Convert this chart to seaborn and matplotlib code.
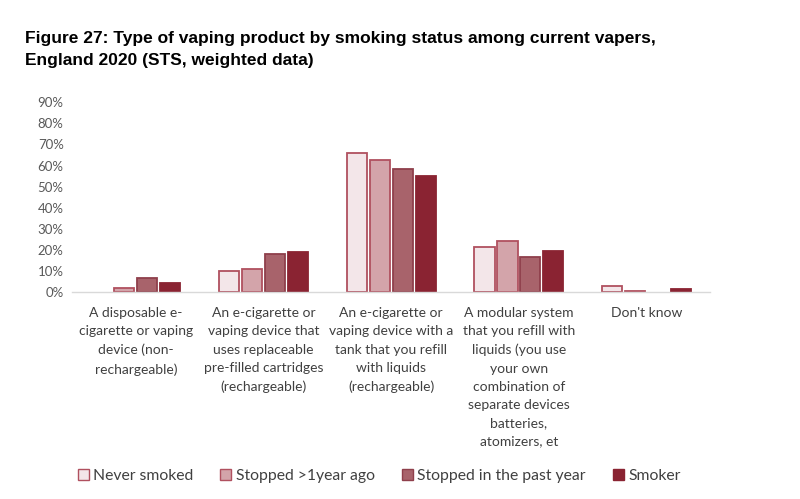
import matplotlib
matplotlib.use("Agg")
import matplotlib.pyplot as plt
import seaborn as sns
import pandas as pd
from matplotlib.patches import Patch
from matplotlib.ticker import FuncFormatter

categories = [
    "A disposable e-\ncigarette or vaping\ndevice (non-\nrechargeable)",
    "An e-cigarette or\nvaping device that\nuses replaceable\npre-filled cartridges\n(rechargeable)",
    "An e-cigarette or\nvaping device with a\ntank that you refill\nwith liquids\n(rechargeable)",
    "A modular system\nthat you refill with\nliquids (you use\nyour own\ncombination of\nseparate devices\nbatteries,\natomizers, et",
    "Don't know",
]
series = ["Never smoked", "Stopped >1year ago", "Stopped in the past year", "Smoker"]
never_smoked = [0.0, 10.0, 66.0, 21.3, 2.9]
stopped_over_1y = [1.9, 11.0, 62.7, 24.1, 0.3]
stopped_past_year = [6.8, 18.2, 58.2, 16.8, 0.0]
smoker = [4.3, 19.0, 54.8, 19.5, 1.6]
y_ticks = [0, 10, 20, 30, 40, 50, 60, 70, 80, 90]

fills = ["#F3E6E9", "#D3A4AA", "#A8636B", "#8A2332"]
edges = ["#B0505F", "#B0505F", "#8F3F4B", "#8A2332"]

rows = []
for s, vals in zip(series, [never_smoked, stopped_over_1y, stopped_past_year, smoker]):
    for c, v in zip(categories, vals):
        rows.append({"cat": c, "series": s, "value": v})
df = pd.DataFrame(rows)

sns.set_theme(style="white")
plt.rcParams["font.family"] = ["Lato", "DejaVu Sans"]

fig = plt.figure(figsize=(8.0, 4.99), dpi=100)
ax = fig.add_axes([0.09, 0.415, 0.798, 0.38])

sns.barplot(data=df, x="cat", y="value", hue="series", hue_order=series,
            palette=fills, width=0.72, gap=0.12, ax=ax, legend=False,
            edgecolor="none", linewidth=0, saturation=1)

for i, cont in enumerate(ax.containers):
    for p in cont.patches:
        p.set_edgecolor(edges[i])
        p.set_linewidth(1.3)
        if p.get_height() <= 0:
            p.set_visible(False)

ax.set_ylim(0, 90)
ax.set_yticks(y_ticks)
ax.yaxis.set_major_formatter(FuncFormatter(lambda v, _: f"{int(v)}%"))
ax.set_xlim(-0.5, 4.5)
ax.set_xlabel("")
ax.set_ylabel("")
for sp in ["top", "right", "left"]:
    ax.spines[sp].set_visible(False)
ax.spines["bottom"].set_color("#D9D9D9")
ax.spines["bottom"].set_linewidth(1.0)
ax.tick_params(axis="y", length=0, labelsize=9.5, labelcolor="#595959", pad=6)
ax.tick_params(axis="x", length=0, labelsize=10.0, labelcolor="#404040", pad=11)
for t in ax.get_xticklabels():
    t.set_linespacing(1.62)
    t.set_verticalalignment("top")

fig.text(0.031, 0.938, "Figure 27: Type of vaping product by smoking status among current vapers,\nEngland 2020 (STS, weighted data)",
         fontsize=12.5, fontweight="bold", color="#000000", ha="left", va="top",
         family=["Liberation Sans", "DejaVu Sans"], linespacing=1.55)

handles = [Patch(facecolor=f, edgecolor=e, linewidth=1.0) for f, e in zip(fills, edges)]
fig.legend(handles, series, loc="center", bbox_to_anchor=(0.474, 0.046), ncol=4,
           frameon=False, fontsize=11.3, labelcolor="#404040", handlelength=0.7,
           handleheight=0.7, handletextpad=0.3, columnspacing=1.7)

fig.savefig("out.png", dpi=100)
